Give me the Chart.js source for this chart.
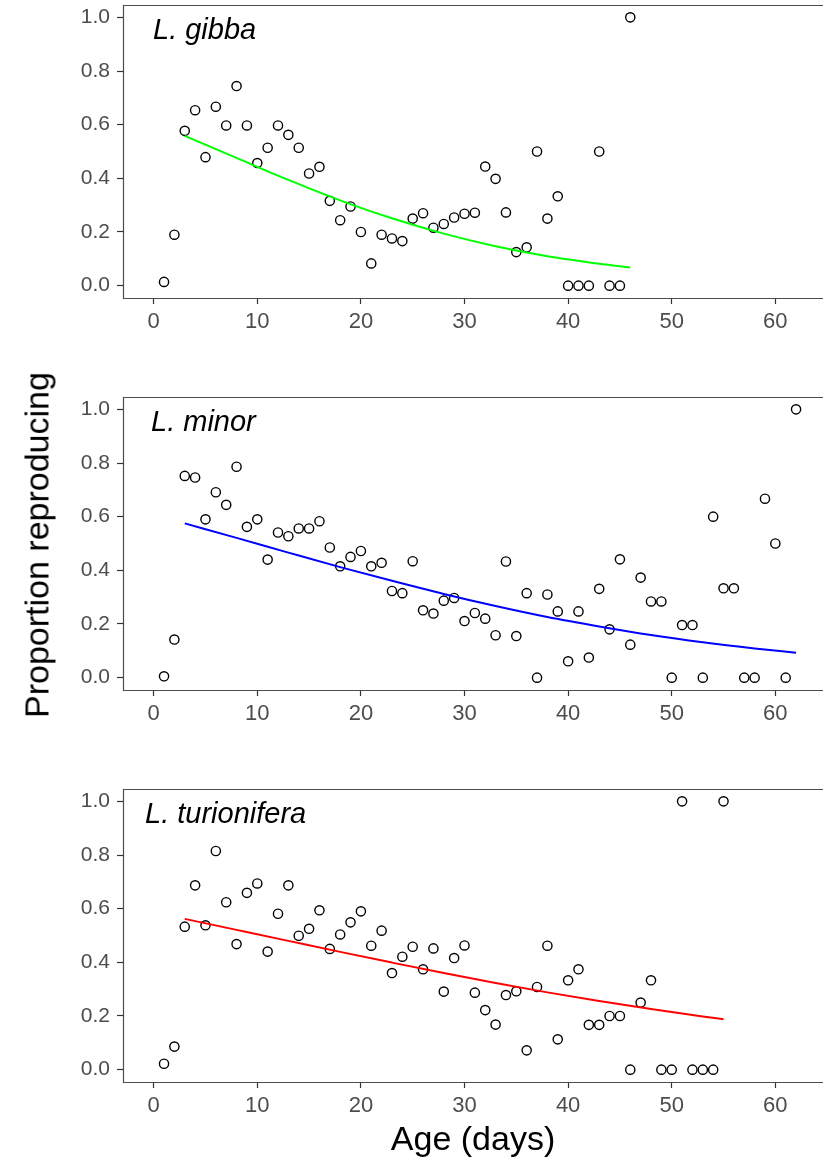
<!DOCTYPE html>
<html>
<head>
<meta charset="utf-8">
<script src="https://cdn.jsdelivr.net/npm/chart.js@4.4.1/dist/chart.umd.min.js"></script>
<style>
  body { margin: 0; background: #fff; width: 823px; height: 1160px; position: relative; overflow: hidden;
         font-family: "Liberation Sans", Arial, sans-serif; }
  canvas.panel { position: absolute; left: 0; }
  #ytitle { position: absolute; left: 37px; top: 545px; transform: translate(-50%, -50%) rotate(-90deg);
            font-size: 34px; white-space: nowrap; color: #000; }
  #xtitle { position: absolute; left: 473px; top: 1138px; transform: translate(-50%, -50%);
            font-size: 34px; white-space: nowrap; color: #000; }
</style>
</head>
<body>
<canvas id="gibbaChart" class="panel" width="823" height="343" style="top:0px"></canvas>
<canvas id="minorChart" class="panel" width="823" height="343" style="top:392px"></canvas>
<canvas id="turioniferaChart" class="panel" width="823" height="343" style="top:784px"></canvas>
<div id="ytitle">Proportion reproducing</div>
<div id="xtitle">Age (days)</div>

<script>
// axis ticks shared by all panels
const xTicks = [0, 10, 20, 30, 40, 50, 60];
const yTicks = [0, 0.2, 0.4, 0.6, 0.8, 1.0];

// L. gibba: proportion reproducing per day
const gibbaDays = [1, 2, 3, 4, 5, 6, 7, 8, 9, 10, 11, 12, 13, 14, 15, 16, 17, 18, 19, 20, 21, 22, 23,
  24, 25, 26, 27, 28, 29, 30, 31, 32, 33, 34, 35, 36, 37, 38, 39, 40, 41, 42, 43, 44, 45, 46];
const gibbaProp = [0.014, 0.19, 0.577, 0.654, 0.479, 0.667, 0.597, 0.744, 0.597, 0.457, 0.514, 0.597,
  0.562, 0.514, 0.418, 0.443, 0.316, 0.244, 0.295, 0.2, 0.083, 0.19, 0.176, 0.166, 0.25, 0.27, 0.216,
  0.23, 0.254, 0.268, 0.272, 0.444, 0.398, 0.273, 0.125, 0.143, 0.5, 0.25, 0.333, 0, 0, 0, 0.5, 0, 0, 1.0];
const gibbaFitDays = [3, 8, 13, 18, 23, 28, 33, 38, 43, 46];
const gibbaFit = [0.558, 0.476, 0.394, 0.318, 0.251, 0.194, 0.147, 0.110, 0.082, 0.068];

// L. minor
const minorDays = [1, 2, 3, 4, 5, 6, 7, 8, 9, 10, 11, 12, 13, 14, 15, 16, 17, 18, 19, 20, 21, 22, 23,
  24, 25, 26, 27, 28, 29, 30, 31, 32, 33, 34, 35, 36, 37, 38, 39, 40, 41, 42, 43, 44, 45, 46, 47, 48,
  49, 50, 51, 52, 53, 54, 55, 56, 57, 58, 59, 60, 61, 62];
const minorProp = [0.005, 0.142, 0.752, 0.746, 0.59, 0.691, 0.644, 0.786, 0.562, 0.59, 0.44, 0.541,
  0.527, 0.556, 0.556, 0.583, 0.485, 0.415, 0.45, 0.472, 0.415, 0.428, 0.323, 0.315, 0.434, 0.251,
  0.239, 0.287, 0.297, 0.211, 0.241, 0.22, 0.158, 0.433, 0.155, 0.315, 0, 0.31, 0.247, 0.061, 0.247,
  0.075, 0.331, 0.18, 0.441, 0.123, 0.373, 0.284, 0.284, 0, 0.196, 0.196, 0, 0.6, 0.333, 0.333, 0, 0,
  0.667, 0.5, 0, 1.0];
const minorFitDays = [3, 8, 13, 18, 23, 28, 33, 38, 43, 48, 53, 58, 62];
const minorFit = [0.575, 0.521, 0.466, 0.412, 0.361, 0.312, 0.267, 0.226, 0.191, 0.159, 0.132, 0.109, 0.093];

// L. turionifera
const turioDays = [1, 2, 3, 4, 5, 6, 7, 8, 9, 10, 11, 12, 13, 14, 15, 16, 17, 18, 19, 20, 21, 22, 23,
  24, 25, 26, 27, 28, 29, 30, 31, 32, 33, 34, 35, 36, 37, 38, 39, 40, 41, 42, 43, 44, 45, 46, 47, 48,
  49, 50, 51, 52, 53, 54, 55];
const turioProp = [0.022, 0.086, 0.533, 0.687, 0.538, 0.815, 0.624, 0.468, 0.659, 0.694, 0.44, 0.581,
  0.687, 0.499, 0.525, 0.594, 0.45, 0.504, 0.549, 0.59, 0.462, 0.518, 0.36, 0.421, 0.458, 0.374,
  0.452, 0.291, 0.416, 0.463, 0.287, 0.222, 0.168, 0.278, 0.292, 0.072, 0.308, 0.462, 0.113, 0.333,
  0.374, 0.167, 0.167, 0.2, 0.2, 0, 0.25, 0.333, 0, 0, 1.0, 0, 0, 0, 1.0];
const turioFitDays = [3, 8, 13, 18, 23, 28, 33, 38, 43, 48, 53, 55];
const turioFit = [0.562, 0.521, 0.480, 0.439, 0.399, 0.360, 0.323, 0.288, 0.256, 0.226, 0.198, 0.188];

const fontFamily = '"Liberation Sans", Arial, sans-serif';

// draws the panel frame (right side runs off the page) and the species name inside it
const panelBox = {
  id: 'panelBox',
  afterDraw(chart, args, opts) {
    const { ctx, chartArea } = chart;
    const l = chartArea.left + 0.5, t = chartArea.top + 0.5, b = chartArea.bottom + 0.5;
    ctx.save();
    ctx.strokeStyle = '#4d4d4d';
    ctx.lineWidth = 1.2;
    ctx.beginPath();
    ctx.moveTo(chart.width, t);
    ctx.lineTo(l, t);
    ctx.lineTo(l, b);
    ctx.lineTo(chart.width, b);
    ctx.stroke();
    ctx.fillStyle = '#000';
    ctx.font = 'italic 29px ' + fontFamily;
    ctx.textBaseline = 'alphabetic';
    ctx.fillText(opts.label, chartArea.left + opts.labelX, chartArea.top + 34);
    ctx.restore();
  }
};

const toPoints = (xs, ys) => xs.map((x, i) => ({ x: x, y: ys[i] }));

const createPanel = (canvasId, label, labelX, days, props, fitDays, fit, color) => {
  const ctx = document.getElementById(canvasId);
  new Chart(ctx, {
    type: 'scatter',
    data: {
      datasets: [
        {
          // fitted curve, drawn on top of the points
          data: toPoints(fitDays, fit),
          showLine: true,
          borderColor: color,
          borderWidth: 2,
          pointRadius: 0,
          cubicInterpolationMode: 'monotone',
          fill: false
        },
        {
          data: toPoints(days, props),
          pointRadius: 4.6,
          pointBorderWidth: 1.4,
          pointBorderColor: '#000',
          pointBackgroundColor: 'rgba(255,255,255,0)'
        }
      ]
    },
    options: {
      responsive: false,
      animation: false,
      events: [],
      layout: { autoPadding: false, padding: { top: 5, right: 0, left: 0, bottom: 0 } },
      plugins: {
        legend: { display: false },
        tooltip: { enabled: false },
        panelBox: { label: label, labelX: labelX }
      },
      scales: {
        x: {
          type: 'linear',
          min: -2.96,
          max: 64.6,
          afterBuildTicks: s => { s.ticks = xTicks.map(v => ({ value: v })); },
          afterFit: s => { s.height = 45; s.paddingLeft = 0; s.paddingRight = 0; },
          border: { display: false },
          grid: { drawOnChartArea: false, drawTicks: true, tickLength: 6, tickColor: '#333', tickWidth: 1.2 },
          ticks: { color: '#4d4d4d', font: { size: 22, family: fontFamily }, padding: 5, maxRotation: 0 }
        },
        y: {
          min: -0.046,
          max: 1.046,
          afterBuildTicks: s => { s.ticks = yTicks.map(v => ({ value: v })); },
          afterFit: s => { s.width = 123; s.paddingTop = 0; s.paddingBottom = 0; },
          border: { display: false },
          grid: { drawOnChartArea: false, drawTicks: true, tickLength: 6, tickColor: '#333', tickWidth: 1.2 },
          ticks: {
            color: '#4d4d4d',
            font: { size: 21, family: fontFamily },
            padding: 7,
            callback: v => v.toFixed(1)
          }
        }
      }
    },
    plugins: [panelBox]
  });
};

createPanel('gibbaChart', 'L. gibba', 30, gibbaDays, gibbaProp, gibbaFitDays, gibbaFit, '#00ff00');
createPanel('minorChart', 'L. minor', 28, minorDays, minorProp, minorFitDays, minorFit, '#0000ff');
createPanel('turioniferaChart', 'L. turionifera', 22, turioDays, turioProp, turioFitDays, turioFit, '#ff0000');
</script>
</body>
</html>
